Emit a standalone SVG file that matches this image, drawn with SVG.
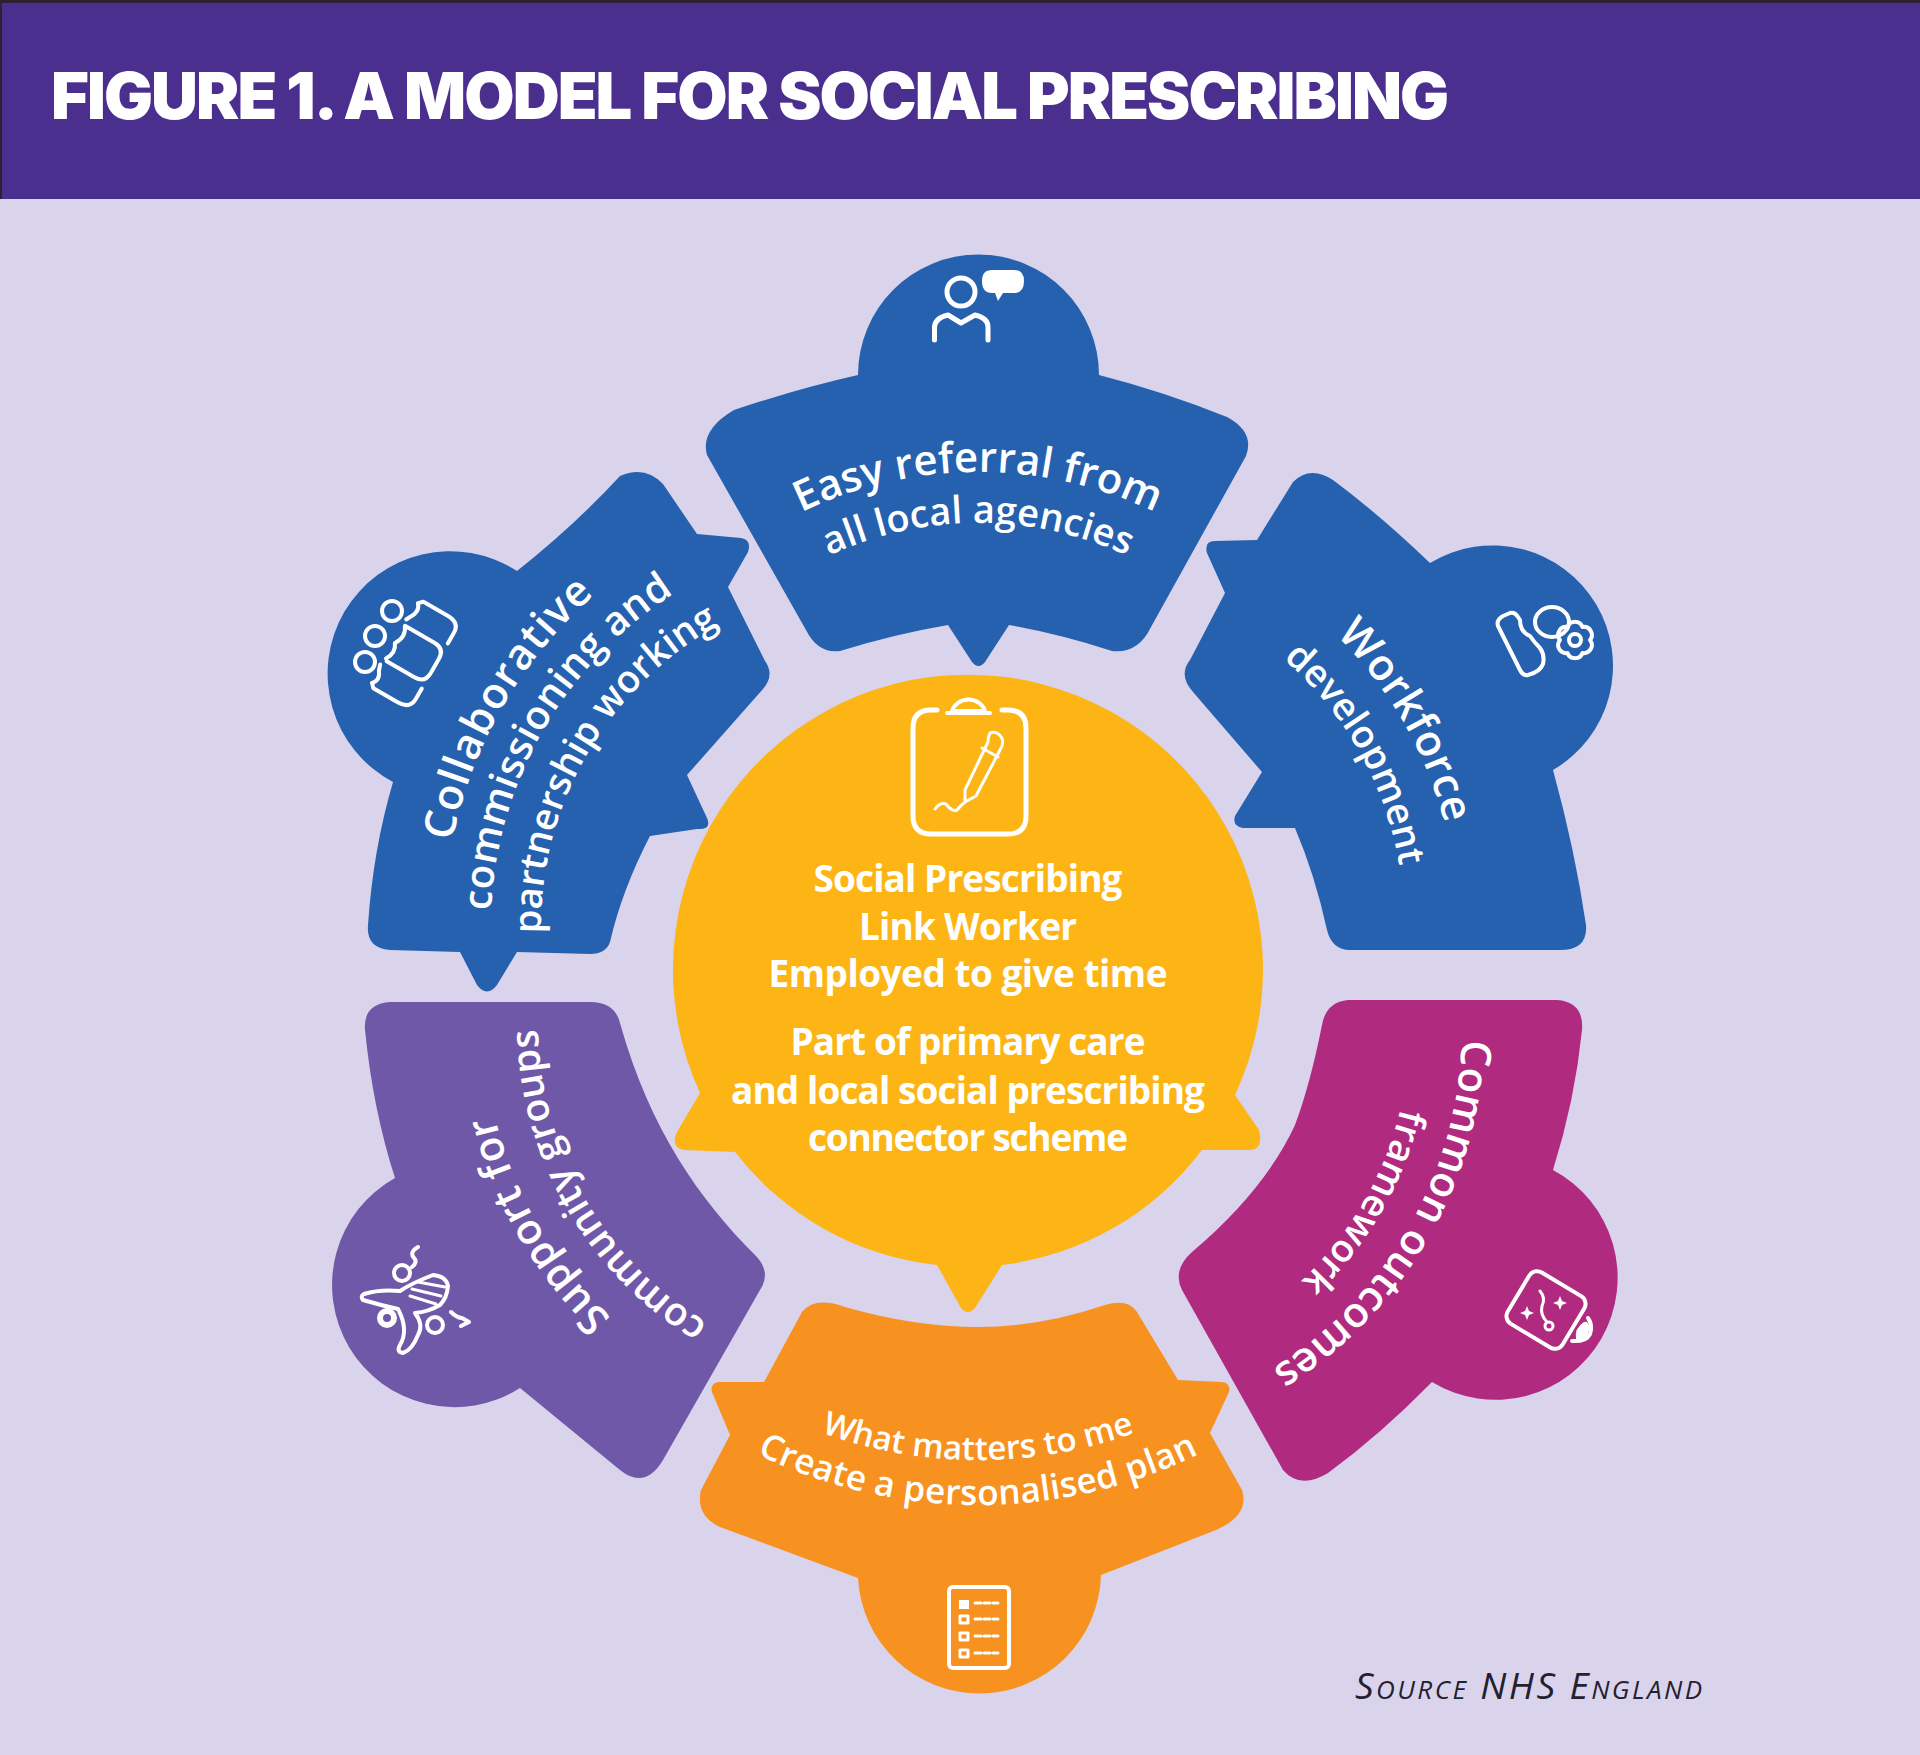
<svg xmlns="http://www.w3.org/2000/svg" width="1920" height="1755" viewBox="0 0 1920 1755">
<style>
.seg{font-family:"Open Sans","Noto Sans",sans-serif;font-weight:600;fill:#fff}
.mid{font-family:"Open Sans","Noto Sans",sans-serif;font-weight:700;fill:#fff;font-size:37px;text-anchor:middle}
.ic{fill:none;stroke:#fff;stroke-width:4;stroke-linecap:round;stroke-linejoin:round}
.w{fill:#fff}
</style>
<defs>
<path id="t1" d="M716.3,567.2 A407,407 0 0 1 1239.7,567.2"/>
<path id="t2" d="M749.1,606.3 A356,356 0 0 1 1206.9,606.3"/>
<path id="l1" d="M547,1211 A442,442 0 0 1 963,492"/>
<path id="l2" d="M583.4,1181 A395,395 0 0 1 954.7,538"/>
<path id="l3" d="M621.7,1148.8 A345,345 0 0 1 946,587.2"/>
<path id="r1" d="M985.1,527.1 A402,402 0 0 1 1362.9,1181.5"/>
<path id="r2" d="M994.3,579.3 A349,349 0 0 1 1322.3,1147.4"/>
<path id="br1" d="M1367.9,768.5 A402,402 0 0 1 990.1,1422.9"/>
<path id="br2" d="M1328.1,801.9 A350,350 0 0 1 999.1,1371.8"/>
<path id="bl1" d="M958.3,1420.9 A404,404 0 0 1 578.5,763.3"/>
<path id="bl2" d="M948.9,1367.7 A350,350 0 0 1 619.9,798"/>
<path id="b1" d="M682.2,1352.4 A460,460 0 0 0 1273.8,1352.4"/>
<path id="b2" d="M653.3,1386.8 A505,505 0 0 0 1302.7,1386.8"/>
</defs>
<rect width="1920" height="1755" fill="#d9d3ec"/>
<g id="header">
<rect width="1920" height="199" fill="#4a2f8e"/>
<rect width="1920" height="3" fill="#2c2232"/>
<rect width="2" height="199" fill="#2c2232"/>
<text x="51" y="119" font-family="Inter,'Liberation Sans',sans-serif" font-weight="900" font-size="65" fill="#fff" textLength="1398" lengthAdjust="spacing">FIGURE 1. A MODEL FOR SOCIAL PRESCRIBING</text>
</g>
<g id="node-top">
<path fill="#2561ae" d="M858,375 A120.5,120.5 0 1 1 1099,375 Q1165,392 1227,417 Q1255,432 1246,456 L1151,627 Q1138,654 1112,651 Q1060,634 1009,625 L985,662 Q978.5,670 972,662 L948,625 Q895,634 840,651 Q818,654 806,630 L707,455 Q700,430 734,410 Q800,388 858,375 Z"/>
<circle class="ic" style="stroke-width:5" cx="961" cy="292" r="14"/>
<path class="ic" style="stroke-width:5" d="M934.5,340 V327 Q935,318 948,315 L961,323 L975,315 Q988,318 988,327 V340"/>
<path class="w" d="M992,270 H1014 Q1024,270 1024,281 Q1024,293 1014,293 H1003 L998,301 L995,293 H992 Q982,293 982,281 Q982,270 992,270 Z"/>
<text class="seg" font-size="42"><textPath href="#t1" startOffset="50%" text-anchor="middle">Easy referral from</textPath></text>
<text class="seg" font-size="38"><textPath href="#t2" startOffset="50%" text-anchor="middle">all local agencies</textPath></text>
</g>
<g id="node-collaborative">
<path fill="#2561ae" d="M393,782 A122.5,122.5 0 1 1 517,571 Q575,525 620,476 Q645,465 663,484 L697,534 L741,538 Q752,540 748,552 L728,587 L765,661 Q775,675 763,689 L687,775 L707,818 Q712,830 697,829 L650,836 Q622,890 610,942 Q606,954 590,954 L517,952 L497,985 Q487,998 477,985 L460,952 L390,950 Q366,948 368,925 Q373,850 393,782 Z"/>
<circle class="ic" cx="392" cy="611" r="10"/><circle class="ic" cx="375" cy="636" r="10"/><circle class="ic" cx="365" cy="662" r="10"/>
<g transform="translate(414,654) rotate(-60)">
<path class="ic" d="M-18,-22 Q-8,-16 0,-22 Q10,-15 20,-22 V12 Q20,24 8,24 H-8 Q-20,24 -20,12 V-20"/>
<path class="ic" d="M26,-24 L30,-22 Q40,-16 46,-22 L50,-18 V10 Q50,24 38,24 H26"/>
<path class="ic" d="M-26,-24 L-32,-22 Q-40,-16 -46,-22 L-50,-18 V10 Q-50,24 -38,24 H-26"/>
</g>
<text class="seg" font-size="43" letter-spacing="1.2"><textPath href="#l1" startOffset="50%" text-anchor="middle">Collaborative</textPath></text>
<text class="seg" font-size="40" letter-spacing="0.4"><textPath href="#l2" startOffset="50%" text-anchor="middle">commissioning and</textPath></text>
<text class="seg" font-size="38"><textPath href="#l3" startOffset="50%" text-anchor="middle">partnership working</textPath></text>
</g>
<g id="node-workforce">
<path fill="#2561ae" d="M1430,563 A120.4,120.4 0 1 1 1553,770 Q1575,850 1586,925 Q1588,950 1560,950 L1350,950 Q1332,950 1327,930 Q1315,875 1295,828 L1243,828 Q1232,826 1235,816 L1262,772 L1193,692 Q1178,675 1190,660 L1225,593 L1207,553 Q1204,541 1215,541 L1257,540 L1293,482 Q1310,465 1333,480 Q1380,515 1430,563 Z"/>
<path class="ic" d="M1498,626 Q1496,620 1503,616 L1510,613 Q1515,612 1518,617 L1520,620 Q1520,632 1530,636 Q1534,642 1540,648 Q1545,655 1543,664 Q1540,672 1528,675 Q1523,676 1520,670 Z"/>
<ellipse class="ic" cx="1552" cy="622" rx="17" ry="15"/>
<path class="ic" d="M1590,640 A8,8 0 0 1 1582.5,653 A8,8 0 0 1 1567.5,653 A8,8 0 0 1 1560,640 A8,8 0 0 1 1567.5,627 A8,8 0 0 1 1582.5,627 A8,8 0 0 1 1590,640 Z"/>
<circle class="ic" cx="1575" cy="640" r="6"/>
<text class="seg" font-size="43" letter-spacing="0.5"><textPath href="#r1" startOffset="50%" text-anchor="middle">Workforce</textPath></text>
<text class="seg" font-size="38"><textPath href="#r2" startOffset="50.5%" text-anchor="middle">development</textPath></text>
</g>
<g id="node-outcomes">
<path fill="#b02a80" d="M1553,1170 A122.1,122.1 0 1 1 1432,1382 Q1380,1435 1328,1473 Q1300,1490 1283,1470 L1182,1290 Q1172,1270 1192,1252 Q1265,1190 1295,1125 Q1310,1085 1322,1025 Q1326,1002 1348,1000 L1557,1000 Q1584,1002 1582,1030 Q1575,1100 1553,1170 Z"/>
<rect class="ic" x="-32" y="-30" width="64" height="60" rx="9" transform="translate(1546,1310) rotate(31)"/>
<path class="ic" style="stroke-width:3" d="M1540,1291 Q1546,1298 1542,1306 Q1540,1315 1547,1322"/>
<circle class="ic" style="stroke-width:3" cx="1549" cy="1326" r="4"/>
<path class="w" d="M1527,1306 L1529,1311 L1534,1313 L1529,1315 L1527,1320 L1525,1315 L1520,1313 L1525,1311 Z M1560,1296 L1562,1301 L1567,1303 L1562,1305 L1560,1310 L1558,1305 L1553,1303 L1558,1301 Z"/>
<path class="w" d="M1576,1340 Q1574,1328 1584,1322 Q1588,1321 1589,1326 Q1590,1338 1578,1341 Z"/>
<path class="ic" d="M1588,1318 Q1593,1325 1590,1334 Q1586,1342 1572,1341"/>
<text class="seg" font-size="42"><textPath href="#br1" startOffset="50%" text-anchor="middle">Common outcomes</textPath></text>
<text class="seg" font-size="38"><textPath href="#br2" startOffset="50%" text-anchor="middle">framework</textPath></text>
</g>
<g id="node-community">
<path fill="#6f58a8" d="M395,1178 A122.25,122.25 0 1 0 520,1388 L620,1470 Q645,1490 663,1460 L760,1290 Q772,1272 755,1255 C700,1200 650,1130 620,1023 Q615,1002 590,1002 L390,1002 Q363,1004 365,1030 Q373,1110 395,1178 Z"/>
<path class="ic" d="M364,1294 Q380,1289 400,1291 Q412,1283 433,1275 Q446,1276 448,1286 Q447,1298 440,1305 Q428,1312 415,1313 Q424,1325 418,1335 Q412,1350 403,1353 Q396,1352 400,1345 Q409,1330 398,1309 Q380,1305 363,1300 Q360,1296 364,1294 Z"/>
<path class="ic" style="stroke-width:3" d="M412,1289 L441,1296 M410,1296 L436,1304 M418,1282 L445,1287"/>
<circle class="ic" cx="402" cy="1273" r="8"/><circle class="ic" style="stroke-width:6" cx="387" cy="1318" r="7"/><circle class="ic" cx="435" cy="1325" r="8"/>
<path class="ic" d="M418,1247 Q409,1252 414,1258 Q418,1262 412,1267 M451,1312 Q457,1318 462,1318 L469,1322 L461,1326"/>
<text class="seg" font-size="42" letter-spacing="0.4"><textPath href="#bl1" startOffset="50%" text-anchor="middle">Support for</textPath></text>
<text class="seg" font-size="39"><textPath href="#bl2" startOffset="50%" text-anchor="middle">community groups</textPath></text>
</g>
<g id="node-plan">
<path fill="#f79220" d="M764,1382 L718,1382 Q710,1384 712,1392 L730,1435 L701,1490 Q695,1515 720,1527 L858,1578 A121.6,121.6 0 0 0 1101,1575 L1216,1530 Q1250,1515 1242,1490 L1210,1433 L1229,1392 Q1231,1383 1222,1382 L1178,1380 L1137,1312 Q1128,1298 1105,1305 Q1040,1327 978,1327 Q915,1327 845,1307 Q815,1296 802,1312 Z"/>
<rect class="ic" x="949" y="1587" width="60" height="81" rx="4"/>
<rect class="w" x="959" y="1600" width="10" height="9"/>
<rect class="ic" style="stroke-width:3" x="960" y="1616" width="8" height="7"/><rect class="ic" style="stroke-width:3" x="960" y="1633" width="8" height="7"/><rect class="ic" style="stroke-width:3" x="960" y="1650" width="8" height="7"/>
<path class="ic" style="stroke-width:3" stroke-dasharray="6 3" d="M975,1603 H998 M975,1619 H998 M975,1636 H998 M975,1653 H998"/>
<text class="seg" font-size="33"><textPath href="#b1" startOffset="50%" text-anchor="middle">What matters to me</textPath></text>
<text class="seg" font-size="35" letter-spacing="0.3"><textPath href="#b2" startOffset="50%" text-anchor="middle">Create a personalised plan</textPath></text>
</g>
<g id="node-centre">
<path fill="#fdb516" d="M700,1093 A295,295 0 1 1 1235,1095 L1259,1130 Q1264,1150 1249,1150 L1202,1150 A295,295 0 0 1 1002,1265 L975,1308 Q968,1316 961,1308 L937,1265 A295,295 0 0 1 735,1152 L684,1150 Q670,1148 677,1132 Z"/>
<path class="ic" style="stroke-width:5" d="M937,710 H931 Q913,710 913,728 V816 Q913,834 931,834 H1008 Q1026,834 1026,816 V728 Q1026,710 1008,710 H1002"/>
<path class="ic" d="M947,713 H990 M952,711 A17,15 0 0 1 985,711 Z"/>
<path class="ic" style="stroke-width:3" d="M990,733 Q997,730 1002,738 Q1004,744 1000,750 L976,796 L965,802 L965,790 L988,742 Q988,737 990,733 Z M982,748 L998,757"/>
<path class="ic" style="stroke-width:3" d="M935,809 Q940,802 946,804 Q952,812 957,810 Q960,806 964,803"/>
<text class="mid" x="968" y="892" textLength="309" lengthAdjust="spacing">Social Prescribing</text>
<text class="mid" x="968" y="940" textLength="218" lengthAdjust="spacing">Link Worker</text>
<text class="mid" x="968" y="987" textLength="399" lengthAdjust="spacing">Employed to give time</text>
<text class="mid" x="968" y="1055" textLength="355" lengthAdjust="spacing">Part of primary care</text>
<text class="mid" x="968" y="1104" textLength="474" lengthAdjust="spacing">and local social prescribing</text>
<text class="mid" x="968" y="1151" textLength="320" lengthAdjust="spacing">connector scheme</text>
</g>
<text id="source" x="1355" y="1699" font-family="'Open Sans','Noto Sans',sans-serif" font-style="italic" font-size="37" fill="#24212e" style="font-variant:small-caps" textLength="347" lengthAdjust="spacing">Source NHS England</text>
</svg>
